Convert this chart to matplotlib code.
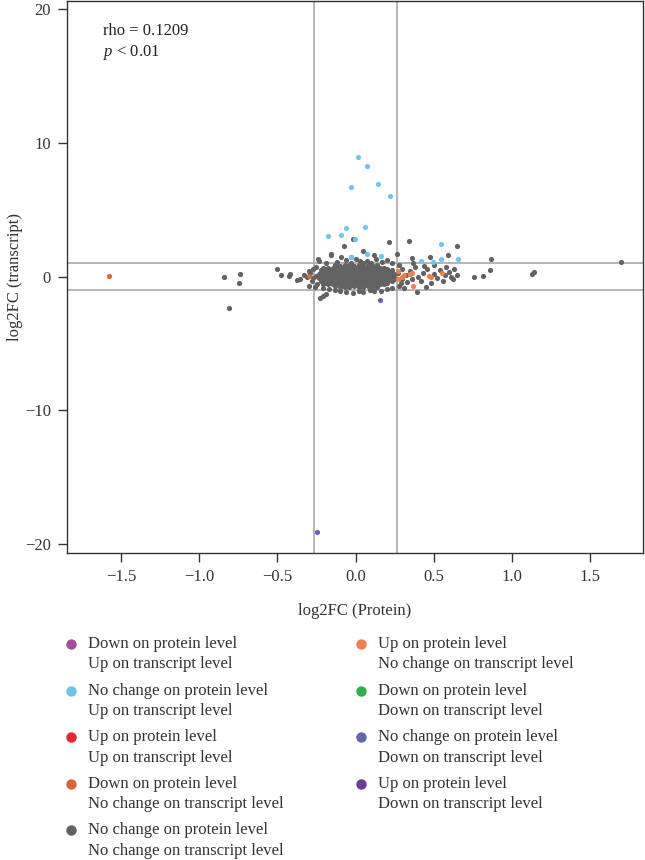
import matplotlib
matplotlib.use('Agg')
import matplotlib.pyplot as plt
from matplotlib.lines import Line2D

plt.rcParams['font.family'] = ['Liberation Serif', 'DejaVu Serif']
plt.rcParams['mathtext.fontset'] = 'custom'
plt.rcParams['mathtext.it'] = 'Liberation Serif:italic'
plt.rcParams['mathtext.rm'] = 'Liberation Serif'

# dense core of unchanged genes (protein log2FC, transcript log2FC)
core_pts = [
    (-0.13, 0.88), (-0.10, 0.82), (-0.07, 0.90), (-0.04, 0.84), (-0.01, 0.80), (0.02, 0.87), (0.05, 0.83), (0.08, 0.90), (0.11, 0.81), (0.14, 0.86),
    (-0.205, 0.62), (-0.175, 0.68), (-0.145, 0.64), (-0.115, 0.70), (-0.085, 0.61), (-0.055, 0.66), (-0.025, 0.69), (0.005, 0.63), (0.035, 0.67), (0.065, 0.60), (0.095, 0.70), (0.125, 0.65), (0.155, 0.62), (0.185, 0.68),
    (-0.19, 0.55), (-0.16, 0.52), (-0.13, 0.57), (-0.10, 0.54), (-0.07, 0.51), (-0.04, 0.56), (-0.01, 0.53), (0.02, 0.58), (0.05, 0.52), (0.08, 0.55), (0.11, 0.57), (0.14, 0.51), (0.17, 0.54), (0.20, 0.56),
    (-0.22, 0.47), (-0.19, 0.42), (-0.16, 0.49), (-0.13, 0.44), (-0.10, 0.40), (-0.07, 0.46), (-0.04, 0.43), (-0.01, 0.50), (0.02, 0.41), (0.05, 0.45), (0.08, 0.48), (0.11, 0.42), (0.14, 0.47), (0.17, 0.44), (0.20, 0.40), (0.23, 0.46),
    (-0.205, 0.35), (-0.175, 0.32), (-0.145, 0.37), (-0.115, 0.34), (-0.085, 0.31), (-0.055, 0.36), (-0.025, 0.33), (0.005, 0.38), (0.035, 0.32), (0.065, 0.35), (0.095, 0.37), (0.125, 0.31), (0.155, 0.34), (0.185, 0.36), (0.215, 0.33),
    (-0.235, 0.22), (-0.205, 0.28), (-0.175, 0.24), (-0.145, 0.27), (-0.115, 0.20), (-0.085, 0.26), (-0.055, 0.23), (-0.025, 0.29), (0.005, 0.21), (0.035, 0.25), (0.065, 0.27), (0.095, 0.22), (0.125, 0.28), (0.155, 0.24), (0.185, 0.20), (0.215, 0.26), (0.245, 0.23),
    (-0.22, 0.15), (-0.19, 0.12), (-0.16, 0.17), (-0.13, 0.14), (-0.10, 0.11), (-0.07, 0.16), (-0.04, 0.13), (-0.01, 0.18), (0.02, 0.12), (0.05, 0.15), (0.08, 0.17), (0.11, 0.11), (0.14, 0.14), (0.17, 0.16), (0.20, 0.13), (0.23, 0.15),
    (-0.25, 0.05), (-0.22, 0.02), (-0.19, 0.08), (-0.16, 0.00), (-0.13, 0.06), (-0.10, 0.03), (-0.07, 0.09), (-0.04, 0.01), (-0.01, 0.07), (0.02, 0.04), (0.05, 0.00), (0.08, 0.08), (0.11, 0.02), (0.14, 0.06), (0.17, 0.03), (0.20, 0.09), (0.23, 0.01),
    (-0.235, -0.05), (-0.205, -0.08), (-0.175, -0.03), (-0.145, -0.06), (-0.115, -0.09), (-0.085, -0.04), (-0.055, -0.07), (-0.025, -0.02), (0.005, -0.08), (0.035, -0.05), (0.065, -0.03), (0.095, -0.09), (0.125, -0.06), (0.155, -0.04), (0.185, -0.07), (0.215, -0.05), (0.245, -0.08),
    (-0.235, -0.12), (-0.205, -0.18), (-0.175, -0.14), (-0.145, -0.20), (-0.115, -0.11), (-0.085, -0.16), (-0.055, -0.19), (-0.025, -0.13), (0.005, -0.17), (0.035, -0.10), (0.065, -0.15), (0.095, -0.20), (0.125, -0.12), (0.155, -0.18), (0.185, -0.14), (0.215, -0.11), (0.245, -0.17),
    (-0.22, -0.25), (-0.19, -0.28), (-0.16, -0.23), (-0.13, -0.26), (-0.10, -0.29), (-0.07, -0.24), (-0.04, -0.27), (-0.01, -0.22), (0.02, -0.28), (0.05, -0.25), (0.08, -0.23), (0.11, -0.29), (0.14, -0.26), (0.17, -0.24), (0.20, -0.27), (0.23, -0.25),
    (-0.22, -0.33), (-0.19, -0.38), (-0.16, -0.31), (-0.13, -0.36), (-0.10, -0.40), (-0.07, -0.34), (-0.04, -0.37), (-0.01, -0.30), (0.02, -0.39), (0.05, -0.35), (0.08, -0.32), (0.11, -0.38), (0.14, -0.33), (0.17, -0.36), (0.20, -0.40), (0.23, -0.34),
    (-0.19, -0.45), (-0.16, -0.48), (-0.13, -0.43), (-0.10, -0.46), (-0.07, -0.49), (-0.04, -0.44), (-0.01, -0.47), (0.02, -0.42), (0.05, -0.48), (0.08, -0.45), (0.11, -0.43), (0.14, -0.49), (0.17, -0.46), (0.20, -0.44),
    (-0.205, -0.52), (-0.175, -0.58), (-0.145, -0.54), (-0.115, -0.50), (-0.085, -0.57), (-0.055, -0.53), (-0.025, -0.59), (0.005, -0.55), (0.035, -0.51), (0.065, -0.56), (0.095, -0.60), (0.125, -0.52), (0.155, -0.57), (0.185, -0.54),
    (-0.13, -0.72), (-0.10, -0.78), (-0.07, -0.74), (-0.04, -0.80), (-0.01, -0.71), (0.02, -0.76), (0.05, -0.79), (0.08, -0.73), (0.11, -0.77), (0.14, -0.75),
]

# scattered unchanged genes around the core
gray_pts = [
    (-0.84, 0.00), (-0.74, 0.20), (-0.744, -0.50), (-0.809, -2.34),
    (-0.50, 0.57), (-0.479, 0.13), (-0.428, 0.03), (-0.419, 0.20), (-0.377, -0.25), (-0.355, -0.17),
    (-0.33, 0.15), (-0.30, 0.45), (-0.30, -0.67), (-0.26, -0.80), (-0.226, -1.57), (-0.191, -1.30),
    (-0.238, 1.32), (-0.157, 1.70), (-0.074, 2.29), (-0.015, 2.82), (-0.31, 0.00), (-0.29, 0.25),
    (-0.28, -0.30), (-0.27, 0.55), (-0.275, -0.10), (-0.25, 0.70), (-0.245, -0.55), (-0.232, 1.20),
    (-0.16, 1.58), (-0.206, -1.42),
    (0.045, 1.94), (0.214, 2.62), (0.263, 1.70), (-0.12, 1.10), (-0.06, 1.25), (-0.03, 1.05),
    (0.00, 1.30), (0.03, 1.15), (0.07, 1.20), (0.10, 1.05), (0.13, 1.35), (0.17, 1.10), (0.20, 1.25),
    (0.23, 1.00), (0.12, 1.60), (-0.09, 1.45), (-0.19, 1.00), (0.05, 1.00), (-0.03, 1.50),
    (-0.13, -1.00), (-0.10, -1.10), (-0.06, -1.15), (-0.015, -1.22), (0.02, -1.05), (0.05, -1.12),
    (0.09, -1.00), (0.12, -1.10), (0.16, -1.05), (0.20, -0.95), (-0.17, -0.95), (0.23, -0.85), (-0.21, -0.85),
    (0.341, 2.69), (0.646, 2.32), (0.359, 1.37), (0.476, 1.50), (0.593, 1.62), (0.866, 1.35),
    (0.759, 0.00), (0.817, 0.02), (0.859, 0.52), (0.39, -1.12), (0.608, -0.05), (1.126, 0.22),
    (1.143, 0.37), (1.697, 1.12),
    (0.28, 0.90), (0.30, 0.60), (0.32, 0.10), (0.33, -0.40), (0.35, 0.45), (0.38, 0.75), (0.40, 0.00),
    (0.42, -0.30), (0.43, 0.30), (0.45, -0.75), (0.46, 0.55), (0.50, 0.20), (0.52, -0.10), (0.54, 0.50),
    (0.557, -0.30), (0.57, 0.10), (0.58, 0.70), (0.60, 0.35), (0.62, -0.20), (0.28, -0.70), (0.31, -0.85),
    (0.30, -0.20), (0.27, 0.30), (0.29, -0.50), (0.36, -0.15), (0.44, 0.80), (0.50, 0.90), (0.65, 0.15),
    (0.63, 0.55), (0.48, -0.45), (0.37, 1.00),
]

# no change on protein, up on transcript
blue_pts = [
    (0.017, 8.97), (0.071, 8.30), (-0.031, 6.71), (0.143, 6.93), (0.222, 6.00), (-0.063, 3.64),
    (0.062, 3.71), (-0.175, 3.07), (-0.091, 3.09), (-0.004, 2.79), (0.075, 1.70), (0.16, 1.55),
    (-0.031, 1.50), (0.544, 2.42), (0.416, 1.20), (0.546, 1.30), (0.497, 1.07), (0.657, 1.35),
]

# up on protein, no change on transcript
orange_pts = [
    (0.27, 0.40), (0.27, -0.17), (0.295, -0.05), (0.348, 0.20), (0.363, 0.27), (0.469, 0.07),
    (0.482, -0.05), (0.365, -0.67), (0.55, 0.27), (0.31, 0.10),
]

# down on protein, no change on transcript
brown_pts = [(-1.575, 0.05), (-0.296, 0.07)]

# no change on protein, down on transcript
slate_pts = [(0.156, -1.74), (-0.249, -19.1)]

legend_labels = [
    'Down on protein level\nUp on transcript level',
    'No change on protein level\nUp on transcript level',
    'Up on protein level\nUp on transcript level',
    'Down on protein level\nNo change on transcript level',
    'No change on protein level\nNo change on transcript level',
    'Up on protein level\nNo change on transcript level',
    'Down on protein level\nDown on transcript level',
    'No change on protein level\nDown on transcript level',
    'Up on protein level\nDown on transcript level',
]
legend_colors = ['#A84B9C', '#6EC6EA', '#E5262A', '#D3693B', '#626262',
                 '#EE7F50', '#2BB04C', '#6066B0', '#6A3C94']

x_ticks = [-1.5, -1.0, -0.5, 0.0, 0.5, 1.0, 1.5]
y_ticks = [-20, -10, 0, 10, 20]
fc_protein = 0.263
fc_transcript = 1.0

fig = plt.figure(figsize=(6.45, 8.6), dpi=100)
ax = fig.add_axes([0.1034, 0.3573, 0.8940, 0.6421])

dot = 14
for pts, col in [(core_pts, '#626262'), (gray_pts, '#626262'), (blue_pts, '#6EC6EA'),
                 (orange_pts, '#EE7F50'), (brown_pts, '#D3693B'), (slate_pts, '#6066B0')]:
    xs, ys = zip(*pts)
    ax.scatter(xs, ys, s=dot, c=col, linewidths=0, zorder=3)

ax.axvline(-fc_protein, color='#A8A8A8', lw=1.2, zorder=2)
ax.axvline(fc_protein, color='#A8A8A8', lw=1.2, zorder=2)
ax.axhline(fc_transcript, color='#A8A8A8', lw=1.2, zorder=2)
ax.axhline(-fc_transcript, color='#A8A8A8', lw=1.2, zorder=2)

ax.set_xlim(-1.847, 1.84)
ax.set_ylim(-20.65, 20.65)
ax.set_xticks(x_ticks)
ax.set_xticklabels(['\u22121.5', '\u22121.0', '\u22120.5', '0.0', '0.5', '1.0', '1.5'])
ax.set_yticks(y_ticks)
ax.set_yticklabels(['\u221220', '\u221210', '0', '10', '20'])
for sp in ax.spines.values():
    sp.set_color('#333333')
    sp.set_linewidth(1.0)
ax.tick_params(length=6.5, width=1.0, color='#333333', labelcolor='#333333', labelsize=12)
ax.tick_params(axis='x', pad=5)
ax.tick_params(axis='y', pad=5)

ax.set_xlabel('log2FC (Protein)', fontsize=12, color='#333333', labelpad=13)
ax.set_ylabel('log2FC (transcript)', fontsize=12, color='#333333', labelpad=1)

ax.text(0.063, 0.944, 'rho = 0.1209', transform=ax.transAxes, fontsize=12, color='#222222', va='center')
ax.text(0.063, 0.906, r'$p$ < 0.01', transform=ax.transAxes, fontsize=12, color='#222222', va='center')

# legend drawn by hand: marker level with the first line of each label
col_marker_x = [71, 361]
col_text_x = [87.5, 378.5]
row_y0, row_step, line_step = 644, 46.6, 20.3
W, H = 645.0, 860.0
for i, (label, color) in enumerate(zip(legend_labels, legend_colors)):
    col, row = divmod(i, 5)
    y = row_y0 + row * row_step
    fig.add_artist(Line2D([col_marker_x[col] / W], [1 - y / H], transform=fig.transFigure,
                          ls='', marker='o', ms=7.5, mfc=color, mec='none'))
    for k, line in enumerate(label.split('\n')):
        fig.text(col_text_x[col] / W, 1 - (y + k * line_step) / H, line,
                 fontsize=12, color='#333333', va='center', ha='left')

fig.savefig('out.png', dpi=100)
